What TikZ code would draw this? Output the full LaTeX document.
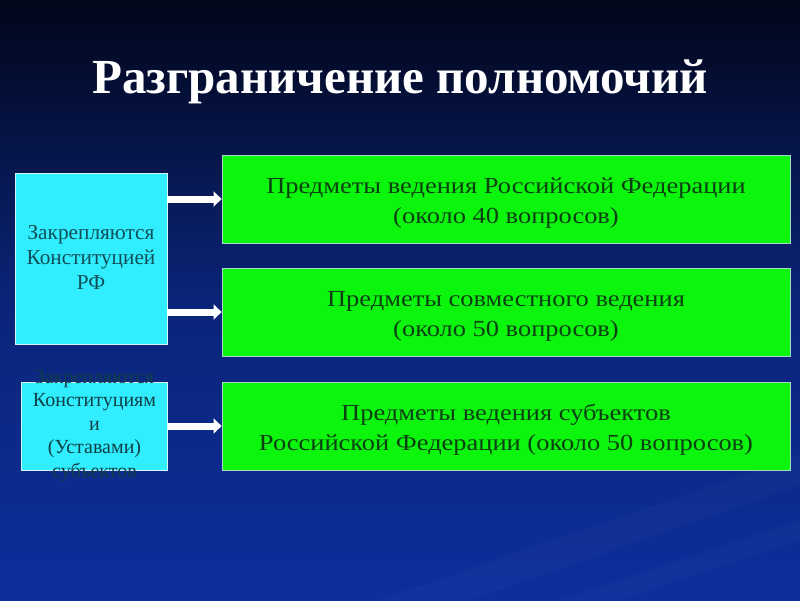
\documentclass[tikz,border=0pt]{standalone}
\usepackage{fontspec}
\setmainfont{Liberation Serif}
\usetikzlibrary{arrows.meta}
\definecolor{bgtop}{HTML}{02061A}
\definecolor{bgmid}{HTML}{0A2478}
\definecolor{bgbot}{HTML}{0C2F9C}
\definecolor{cyanfill}{HTML}{30EEFF}
\definecolor{cyantext}{HTML}{115058}
\definecolor{greenfill}{HTML}{0CF50C}
\definecolor{greentext}{HTML}{0B4012}
\definecolor{greenline}{HTML}{A8D8C8}
\tikzset{
  cyanbox/.style={draw=white!85!cyan, line width=0.8pt, fill=cyanfill, inner sep=0pt, align=center, text=cyantext},
  greenbox/.style={draw=greenline, line width=0.8pt, fill=greenfill, inner sep=0pt, minimum width=568pt, minimum height=88pt},
  greenlabel/.style={anchor=base, inner sep=0pt, align=center, text=greentext, xscale=1.15, font=\fontsize{23}{30}\selectfont},
  cyanlabel/.style={anchor=base, inner sep=0pt, align=center, text=cyantext},
  bigarrow/.style={white, line width=7pt, -{Triangle[length=8pt,width=15pt]}, shorten >=0pt}
}
\begin{document}
\begin{tikzpicture}[x=1pt,y=-1pt]
\useasboundingbox (0,0) rectangle (800,600);
\shade[top color=bgtop, bottom color=bgbot, middle color=bgmid] (0,0) rectangle (800,600);
% faint streaks
\fill[white, opacity=0.025] (380,600) -- (800,455) -- (800,485) -- (470,600) -- cycle;
\fill[white, opacity=0.02] (560,600) -- (800,520) -- (800,540) -- (620,600) -- cycle;
\node[text=white, anchor=base, inner sep=0pt, font=\fontsize{49}{55}\bfseries\selectfont] (title) at (400,93.3) {Разграничение полномочий};
\node[cyanbox, minimum width=152pt, minimum height=171pt] (c1) at (91,258.5) {};
\node[cyanlabel, font=\fontsize{21.3}{25}\selectfont] (c1t) at (91,289.3) {Закрепляются\\Конституцией\\РФ};
\node[cyanbox, minimum width=146pt, minimum height=88pt] (c2) at (94.5,426) {};
\node[cyanlabel, text=cyantext!80!black, font=\fontsize{20}{23.5}\selectfont] (c2t) at (94.5,477.3) {Закрепляются\\Конституциям\\и\\(Уставами)\\субъектов};
\node[greenbox] (g1) at (506,199) {};
\node[greenbox] (g2) at (506,312) {};
\node[greenbox] (g3) at (506,426) {};
\node[greenlabel] (g1t) at (506,223.3) {Предметы ведения Российской Федерации\\(около 40 вопросов)};
\node[greenlabel] (g2t) at (506,336.3) {Предметы совместного ведения\\(около 50 вопросов)};
\node[greenlabel] (g3t) at (506,450.3) {Предметы ведения субъектов\\Российской Федерации (около 50 вопросов)};
\draw[bigarrow] (c1.east |- g1.west) -- (g1.west);
\draw[bigarrow] (c1.east |- g2.west) -- (g2.west);
\draw[bigarrow] (c2.east |- g3.west) -- (g3.west);
\end{tikzpicture}
\end{document}
